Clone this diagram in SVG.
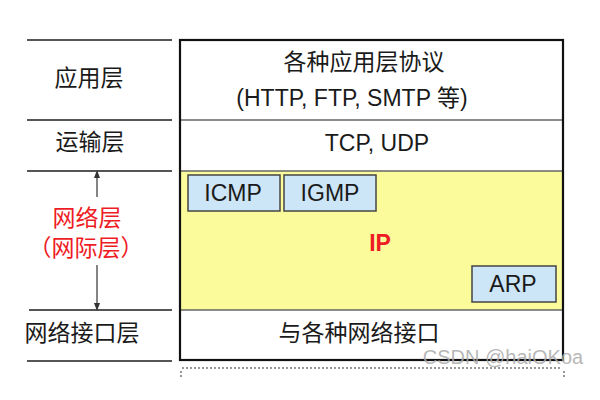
<svg xmlns="http://www.w3.org/2000/svg" width="600" height="400" viewBox="0 0 600 400">
<defs>
<style>
.t{font-family:"Liberation Sans","Noto Sans CJK SC",sans-serif;font-size:23px;fill:#1a1a1a;text-anchor:middle}
.red{fill:#ee1c24}
.sep{stroke:#555;stroke-width:2}
.box{fill:#cde6f7;stroke:#444;stroke-width:1.5}
.ax{stroke:#333;stroke-width:1.2;fill:none}
</style>
<marker id="ah" markerWidth="8" markerHeight="8" refX="4" refY="4" orient="auto" markerUnits="userSpaceOnUse">
<path d="M0,1 L8,4 L0,7 Z" fill="#333"/>
</marker>
</defs>
<rect width="600" height="400" fill="#fff"/>
<g id="left-lines">
<line class="sep" x1="27" y1="40" x2="172" y2="40"/>
<line class="sep" x1="27" y1="120" x2="172" y2="120"/>
<line class="sep" x1="27" y1="171" x2="172" y2="171"/>
<line class="sep" x1="29" y1="310" x2="172" y2="310"/>
<line class="sep" x1="27" y1="361" x2="172" y2="361"/>
</g>
<g id="label-app"><text class="t" x="89" y="86">应用层</text></g>
<g id="label-transport"><text class="t" x="90" y="150">运输层</text></g>
<g id="label-network">
<text class="t red" x="87" y="226">网络层</text>
<text class="t red" x="86" y="256">（网际层）</text>
</g>
<g id="label-link"><text class="t" x="82" y="341">网络接口层</text></g>
<g id="connectors">
<line class="ax" x1="97" y1="197" x2="97" y2="174" marker-end="url(#ah)"/>
<line class="ax" x1="97" y1="265" x2="97" y2="307" marker-end="url(#ah)"/>
</g>
<g id="stack">
<rect x="180" y="171" width="383" height="139" fill="#fbfb9c"/>
<line x1="180" y1="120" x2="563" y2="120" stroke="#666" stroke-width="1.5"/>
<line x1="180" y1="171" x2="563" y2="171" stroke="#666" stroke-width="1.5"/>
<line x1="180" y1="310" x2="563" y2="310" stroke="#666" stroke-width="1.5"/>
<rect x="180" y="40" width="383" height="320" fill="none" stroke="#111" stroke-width="2.2"/>
<line x1="182" y1="368" x2="562" y2="368" stroke="#777" stroke-width="1.5" stroke-dasharray="2,2"/>
<line x1="181" y1="371" x2="181" y2="377" stroke="#777" stroke-width="1.5" stroke-dasharray="2,2"/>
<line x1="564" y1="371" x2="564" y2="377" stroke="#777" stroke-width="1.5" stroke-dasharray="2,2"/>
</g>
<g id="app-layer">
<text class="t" x="364" y="70">各种应用层协议</text>
<text class="t" x="352" y="106">(HTTP, FTP, SMTP 等)</text>
</g>
<g id="transport-layer"><text class="t" x="377" y="151">TCP, UDP</text></g>
<g id="icmp"><rect class="box" x="188" y="175" width="92" height="36"/><text class="t" x="233" y="201">ICMP</text></g>
<g id="igmp"><rect class="box" x="284" y="175" width="92" height="36"/><text class="t" x="330" y="201">IGMP</text></g>
<g id="ip"><text class="t red" x="380" y="251" font-size="22" font-weight="bold">IP</text></g>
<g id="arp"><rect class="box" x="472" y="266" width="84" height="36"/><text class="t" x="513" y="292">ARP</text></g>
<g id="link-layer"><text class="t" x="359" y="341">与各种网络接口</text></g>
<text x="503" y="364" font-family="Liberation Sans,sans-serif" font-size="20" fill="#aaa" fill-opacity="0.85" text-anchor="middle">CSDN @haiOKoa</text>
</svg>
